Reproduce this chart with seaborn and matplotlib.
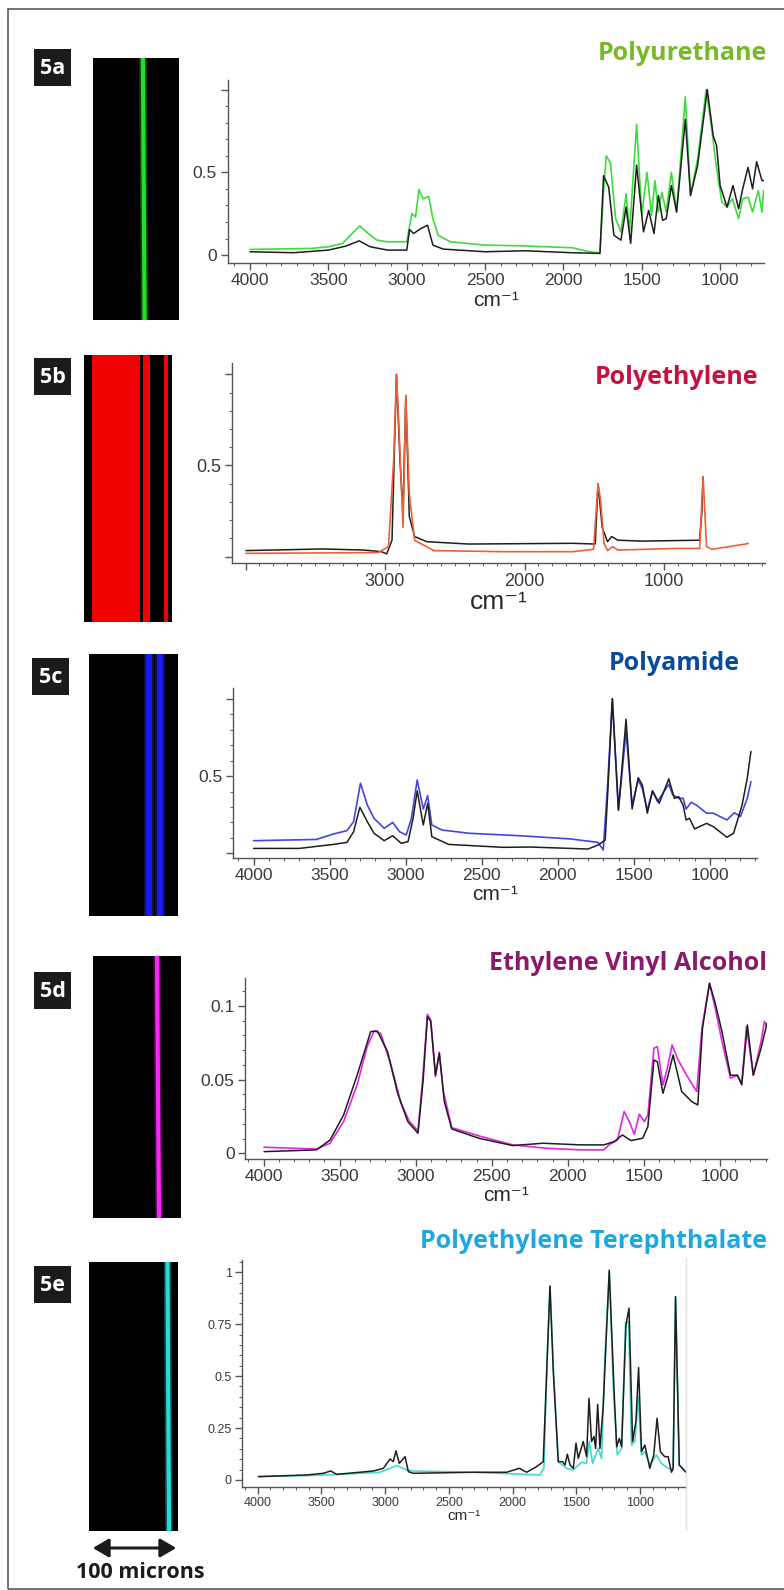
import numpy as np
import pandas as pd
import seaborn as sns
import matplotlib
matplotlib.use("Agg")
import matplotlib.pyplot as plt
from matplotlib.patches import Rectangle, FancyArrowPatch
from matplotlib.lines import Line2D
from matplotlib.ticker import MultipleLocator, FixedLocator, FixedFormatter


# ---- spectra, (wavenumber cm-1, absorbance) ----
pu_sample = [(4000, 0.034), (3611, 0.04), (3500, 0.05), (3411, 0.07), (3300, 0.176), (3233, 0.12),
             (3189, 0.09), (3122, 0.08), (3000, 0.08), (2989, 0.14), (2967, 0.25), (2944, 0.23),
             (2922, 0.396), (2896, 0.34), (2860, 0.354), (2833, 0.22), (2800, 0.12), (2722, 0.08),
             (2500, 0.06), (2278, 0.056), (1944, 0.044), (1833, 0.02), (1767, 0.014), (1744, 0.38),
             (1727, 0.60), (1700, 0.556), (1667, 0.22), (1633, 0.14), (1600, 0.37), (1578, 0.14),
             (1533, 0.79), (1500, 0.24), (1467, 0.50), (1438, 0.24), (1416, 0.45), (1394, 0.26),
             (1372, 0.38), (1344, 0.26), (1311, 0.50), (1278, 0.26), (1222, 0.956), (1189, 0.36),
             (1144, 0.58), (1089, 1.0), (1056, 0.78), (1022, 0.52), (989, 0.32), (956, 0.29),
             (922, 0.34), (882, 0.22), (856, 0.34), (822, 0.35), (793, 0.26), (756, 0.39),
             (733, 0.26), (722, 0.39)]
pu_ref = [(4000, 0.02), (3722, 0.014), (3500, 0.03), (3389, 0.054), (3304, 0.086), (3233, 0.05),
          (3122, 0.03), (3000, 0.03), (2982, 0.154), (2956, 0.13), (2911, 0.16), (2867, 0.18),
          (2833, 0.06), (2767, 0.036), (2500, 0.02), (2244, 0.026), (1944, 0.014), (1767, 0.01),
          (1744, 0.48), (1711, 0.41), (1678, 0.12), (1633, 0.09), (1600, 0.29), (1571, 0.07),
          (1533, 0.544), (1489, 0.14), (1456, 0.27), (1422, 0.13), (1394, 0.36), (1367, 0.21),
          (1344, 0.22), (1311, 0.42), (1278, 0.26), (1222, 0.82), (1189, 0.36), (1144, 0.54),
          (1082, 1.0), (1044, 0.72), (1022, 0.66), (1000, 0.42), (956, 0.29), (918, 0.42),
          (882, 0.28), (856, 0.40), (822, 0.53), (793, 0.40), (767, 0.564), (733, 0.45), (722, 0.45)]

pe_sample = [(3997, 0.018), (3050, 0.022), (2975, 0.055), (2938, 0.53), (2918, 1.0), (2900, 0.71),
             (2871, 0.16), (2851, 0.885), (2826, 0.345), (2788, 0.09), (2651, 0.033), (2153, 0.027),
             (1655, 0.027), (1505, 0.04), (1473, 0.40), (1455, 0.31), (1430, 0.073), (1405, 0.033),
             (1368, 0.055), (1331, 0.036), (907, 0.045), (745, 0.045), (720, 0.44), (695, 0.055),
             (658, 0.04), (409, 0.07), (396, 0.073)]
pe_ref = [(3997, 0.033), (3449, 0.042), (3150, 0.036), (3025, 0.027), (2988, 0.015), (2950, 0.09),
          (2918, 1.0), (2893, 0.53), (2871, 0.24), (2851, 0.88), (2826, 0.22), (2788, 0.11),
          (2701, 0.082), (2402, 0.069), (1655, 0.073), (1493, 0.069), (1473, 0.40), (1443, 0.16),
          (1405, 0.082), (1375, 0.11), (1331, 0.09), (1156, 0.085), (745, 0.09), (728, 0.25),
          (720, 0.436)]

pa_sample = [(4000, 0.082), (3587, 0.09), (3475, 0.125), (3386, 0.147), (3342, 0.205), (3297, 0.454),
             (3252, 0.313), (3208, 0.227), (3141, 0.162), (3085, 0.2), (3040, 0.14), (2996, 0.119),
             (2962, 0.227), (2924, 0.475), (2884, 0.287), (2855, 0.374), (2828, 0.184), (2761, 0.151),
             (2583, 0.13), (2248, 0.114), (1913, 0.093), (1735, 0.071), (1701, 0.022), (1672, 0.443),
             (1641, 1.0), (1601, 0.28), (1551, 0.79), (1511, 0.313), (1471, 0.475), (1444, 0.42),
             (1411, 0.28), (1377, 0.404), (1344, 0.335), (1270, 0.447), (1244, 0.378), (1205, 0.356),
             (1176, 0.356), (1156, 0.287), (1123, 0.33), (1089, 0.313), (1022, 0.26), (977, 0.26),
             (888, 0.216), (839, 0.263), (799, 0.238), (754, 0.356), (730, 0.464)]
pa_ref = [(4000, 0.032), (3699, 0.032), (3475, 0.058), (3386, 0.071), (3342, 0.14), (3301, 0.298),
          (3252, 0.205), (3208, 0.13), (3141, 0.082), (3085, 0.114), (3029, 0.065), (2984, 0.076),
          (2951, 0.227), (2924, 0.404), (2884, 0.184), (2855, 0.324), (2828, 0.108), (2717, 0.058),
          (2359, 0.039), (2181, 0.041), (1913, 0.032), (1801, 0.028), (1735, 0.054), (1688, 0.086),
          (1672, 0.378), (1641, 1.0), (1601, 0.28), (1551, 0.868), (1511, 0.287), (1471, 0.49),
          (1444, 0.443), (1411, 0.26), (1377, 0.404), (1333, 0.324), (1270, 0.482), (1233, 0.356),
          (1205, 0.367), (1176, 0.313), (1156, 0.216), (1134, 0.227), (1100, 0.158), (1022, 0.194),
          (977, 0.173), (888, 0.104), (844, 0.13), (788, 0.313), (754, 0.486), (730, 0.659)]

evoh_sample = [(3997, 0.0041), (3808, 0.0034), (3652, 0.0029), (3563, 0.0068), (3474, 0.0215),
               (3385, 0.0464), (3319, 0.0724), (3274, 0.083), (3230, 0.0814), (3163, 0.06),
               (3096, 0.034), (3041, 0.0215), (2985, 0.0152), (2952, 0.053), (2923, 0.0943),
               (2901, 0.0905), (2870, 0.052), (2845, 0.0686), (2818, 0.042), (2763, 0.0174),
               (2585, 0.0118), (2363, 0.0057), (2141, 0.0034), (1918, 0.0023), (1763, 0.0023),
               (1730, 0.0057), (1674, 0.009), (1630, 0.0283), (1596, 0.0215), (1563, 0.0129),
               (1530, 0.0265), (1497, 0.0215), (1474, 0.026), (1434, 0.0713), (1412, 0.0724),
               (1375, 0.0464), (1346, 0.0577), (1315, 0.0735), (1275, 0.0633), (1208, 0.051),
               (1153, 0.042), (1119, 0.0848), (1069, 0.1154), (1031, 0.0984), (987, 0.0758),
               (931, 0.051), (886, 0.053), (857, 0.0475), (826, 0.086), (781, 0.053),
               (730, 0.0758), (708, 0.0894), (691, 0.086)]
evoh_ref = [(3997, 0.0011), (3652, 0.0023), (3563, 0.009), (3474, 0.026), (3385, 0.053),
            (3296, 0.0826), (3252, 0.083), (3185, 0.069), (3119, 0.0407), (3052, 0.0215),
            (2985, 0.0136), (2952, 0.0486), (2923, 0.0928), (2901, 0.0894), (2870, 0.053),
            (2845, 0.0679), (2812, 0.035), (2763, 0.0165), (2585, 0.0102), (2363, 0.0052),
            (2163, 0.0068), (1918, 0.0057), (1763, 0.0057), (1696, 0.0079), (1641, 0.0124),
            (1585, 0.0086), (1508, 0.0102), (1474, 0.0181), (1434, 0.0633), (1412, 0.0622),
            (1375, 0.0407), (1346, 0.051), (1308, 0.0667), (1252, 0.042), (1185, 0.035),
            (1146, 0.0328), (1115, 0.0848), (1069, 0.1154), (1031, 0.1018), (987, 0.0826),
            (931, 0.053), (886, 0.053), (857, 0.0464), (820, 0.0871), (781, 0.053),
            (730, 0.0713), (691, 0.0882)]

pet_sample = [(3993, 0.016), (3614, 0.021), (3353, 0.027), (3039, 0.037), (2961, 0.056), (2909, 0.069),
              (2830, 0.048), (2778, 0.043), (2307, 0.037), (1915, 0.027), (1785, 0.024), (1754, 0.056),
              (1727, 0.60), (1706, 0.93), (1680, 0.55), (1641, 0.088), (1576, 0.056), (1523, 0.048),
              (1497, 0.064), (1458, 0.085), (1419, 0.08), (1398, 0.185), (1372, 0.08), (1327, 0.152),
              (1301, 0.104), (1275, 0.60), (1241, 1.0), (1209, 0.44), (1178, 0.12), (1144, 0.152),
              (1113, 0.76), (1089, 0.76), (1066, 0.168), (1040, 0.185), (1014, 0.40), (988, 0.12),
              (962, 0.136), (923, 0.072), (871, 0.12), (832, 0.08), (779, 0.056), (740, 0.048),
              (721, 0.875), (692, 0.072), (640, 0.04)]
pet_ref = [(3993, 0.016), (3614, 0.024), (3484, 0.032), (3426, 0.043), (3379, 0.027), (3092, 0.043),
           (3013, 0.056), (2961, 0.101), (2935, 0.088), (2914, 0.14), (2888, 0.08), (2843, 0.112),
           (2817, 0.04), (2778, 0.032), (2307, 0.037), (2046, 0.037), (1947, 0.056), (1889, 0.037),
           (1811, 0.064), (1759, 0.088), (1732, 0.52), (1706, 0.934), (1680, 0.52), (1641, 0.088),
           (1607, 0.088), (1588, 0.072), (1570, 0.124), (1549, 0.072), (1523, 0.056), (1502, 0.177),
           (1484, 0.104), (1445, 0.185), (1419, 0.112), (1400, 0.393), (1380, 0.185), (1361, 0.209),
           (1348, 0.152), (1332, 0.364), (1314, 0.152), (1288, 0.361), (1241, 1.01), (1204, 0.44),
           (1183, 0.16), (1162, 0.2), (1144, 0.16), (1110, 0.746), (1086, 0.827), (1058, 0.185),
           (1032, 0.281), (1011, 0.541), (988, 0.136), (962, 0.168), (923, 0.056), (892, 0.12),
           (866, 0.297), (840, 0.136), (806, 0.112), (779, 0.112), (753, 0.037), (740, 0.056),
           (721, 0.883), (692, 0.072), (640, 0.037)]

titles = ["Polyurethane", "Polyethylene", "Polyamide", "Ethylene Vinyl Alcohol",
          "Polyethylene Terephthalate"]
panel_tags = ["5a", "5b", "5c", "5d", "5e"]

# microscope strips, positions across the 100 micron field (top, bottom)
pu_fibre = [(58, 60)]
pe_red_bands = [(9, 63.6), (67.6, 75), (90.9, 94.9)]
pa_fibres = [(67.4, 67.4), (80.3, 80.3)]
evoh_fibre = [(72.7, 75)]
pet_fibre = [(88.2, 89.9)]


W, H = 784, 1590
sns.set_theme(style="ticks")
NARROW = ["Liberation Sans Narrow", "Liberation Sans", "DejaVu Sans"]
BOLD = ["Open Sans", "DejaVu Sans"]
plt.rcParams["font.family"] = NARROW


def box(l, t, r, b):
    return [l / W, 1 - b / H, (r - l) / W, (b - t) / H]


def to_frame(pairs, name):
    arr = np.array(pairs, dtype=float)
    return pd.DataFrame({"wn": arr[:, 0], "abs": arr[:, 1], "series": name})


fig = plt.figure(figsize=(W / 100, H / 100), dpi=100)

# outer frame, its right edge lies beyond the picture
fig.add_artist(Rectangle((8 / W, 1 - 1589 / H), 900 / W, 1580 / H, transform=fig.transFigure,
                         fill=False, edgecolor="#5a5a5a", lw=1.2, clip_on=False))

panels = [
    dict(sample=pu_sample, ref=pu_ref, color="#3ddc3d", rect=(227.5, 80, 764, 263),
         xlim=(4144, 720), ylim=(-0.048, 1.058),
         xmaj=[4000, 3500, 3000, 2500, 2000, 1500, 1000], xlab=None, xmin=100,
         ymaj=[0, 0.5, 1.0], ylab=["0", "0.5", ""], ymin=0.1,
         tsize=12.5, lsize=15, lpad=2,
         title_c="#78b82a", title_xy=(767, 53), tag_box=(34, 49),
         strip=(93, 58, 179, 320)),
    dict(sample=pe_sample, ref=pe_ref, color="#ee5f33", rect=(232, 363, 765, 563),
         xlim=(4097, 276), ylim=(-0.035, 1.062),
         xmaj=[4000, 3000, 2000, 1000], xlab=["", "3000", "2000", "1000"], xmin=100,
         ymaj=[0, 0.5, 1.0], ylab=["", "0.5", ""], ymin=0.1,
         tsize=13, lsize=19, lpad=0,
         title_c="#c8103e", title_xy=(758, 378), tag_box=(34, 358),
         strip=(84, 355, 172, 622)),
    dict(sample=pa_sample, ref=pa_ref, color="#4545e0", rect=(233, 688, 757, 858),
         xlim=(4135, 690), ylim=(-0.03, 1.07),
         xmaj=[4000, 3500, 3000, 2500, 2000, 1500, 1000], xlab=None, xmin=100,
         ymaj=[0, 0.5, 1.0], ylab=["", "0.5", ""], ymin=0.1,
         tsize=12.5, lsize=15, lpad=1,
         title_c="#0b4a9a", title_xy=(740, 663), tag_box=(32, 658),
         strip=(89, 654, 178, 916)),
    dict(sample=evoh_sample, ref=evoh_ref, color="#e425e4", rect=(245, 978, 767, 1159),
         xlim=(4122, 691), ylim=(-0.0039, 0.119),
         xmaj=[4000, 3500, 3000, 2500, 2000, 1500, 1000], xlab=None, xmin=100,
         ymaj=[0, 0.05, 0.1], ylab=["0", "0.05", "0.1"], ymin=0.01,
         tsize=12.5, lsize=15, lpad=1,
         title_c="#8a1a6a", title_xy=(767, 963), tag_box=(34, 972),
         strip=(93, 956, 181, 1218)),
    dict(sample=pet_sample, ref=pet_ref, color="#45d8cc", rect=(242, 1260, 686, 1487),
         xlim=(4122, 639), ylim=(-0.034, 1.059),
         xmaj=[4000, 3500, 3000, 2500, 2000, 1500, 1000], xlab=None, xmin=100,
         ymaj=[0, 0.25, 0.5, 0.75, 1.0], ylab=["0", "0.25", "0.5", "0.75", "1"], ymin=0.05,
         tsize=9, lsize=11, lpad=0,
         title_c="#1ea7e1", title_xy=(767, 1241), tag_box=(34, 1266),
         strip=(89, 1262, 178, 1531)),
]

fibre_core = {0: "#22e022", 2: "#1a1aff", 3: "#ff22ff", 4: "#22dcdc"}

for i, p in enumerate(panels):
    ax = fig.add_axes(box(*p["rect"]))
    df = pd.concat([to_frame(p["sample"], "sample"), to_frame(p["ref"], "ref")])
    sns.lineplot(data=df[df.series == "sample"], x="wn", y="abs", color=p["color"],
                 lw=1.2, estimator=None, sort=False, ax=ax)
    sns.lineplot(data=df[df.series == "ref"], x="wn", y="abs", color="#1e1e1e",
                 lw=1.1, estimator=None, sort=False, ax=ax)
    if i == 1:
        # the sample sits on top of the reference in the polyethylene plot
        ax.lines[0].set_zorder(3)
    ax.set_xlim(*p["xlim"])
    ax.set_ylim(*p["ylim"])
    sns.despine(ax=ax)
    for s in ("left", "bottom"):
        ax.spines[s].set_color("#555555")
        ax.spines[s].set_linewidth(1.0)
    ax.xaxis.set_major_locator(FixedLocator(p["xmaj"]))
    if p["xlab"] is not None:
        ax.xaxis.set_major_formatter(FixedFormatter(p["xlab"]))
    ax.xaxis.set_minor_locator(MultipleLocator(p["xmin"]))
    ax.yaxis.set_major_locator(FixedLocator(p["ymaj"]))
    ax.yaxis.set_major_formatter(FixedFormatter(p["ylab"]))
    ax.yaxis.set_minor_locator(MultipleLocator(p["ymin"]))
    ax.tick_params(which="major", length=5, width=1, color="#555555", pad=2.5,
                   labelsize=p["tsize"], labelcolor="#3a3a3a")
    ax.tick_params(which="minor", length=2.5, width=0.8, color="#666666")
    for lab in ax.get_xticklabels() + ax.get_yticklabels():
        lab.set_family(NARROW)
    ax.set_ylabel("")
    ax.set_xlabel("cm⁻¹", fontsize=p["lsize"], color="#2a2a2a", labelpad=p["lpad"],
                  family=NARROW)

    tx, ty = p["title_xy"]
    fig.text(tx / W, 1 - ty / H, titles[i], ha="right", va="center", fontsize=18,
             fontweight="bold", color=p["title_c"], family=BOLD)

    bx, by = p["tag_box"]
    tag = fig.add_axes(box(bx, by, bx + 37, by + 37))
    tag.set_facecolor("#1b1b1b")
    tag.set_xticks([])
    tag.set_yticks([])
    for s in tag.spines.values():
        s.set_visible(False)
    tag.text(0.5, 0.48, panel_tags[i], ha="center", va="center", color="white",
             fontsize=15.5, fontweight="bold", family=BOLD, transform=tag.transAxes)

    sax = fig.add_axes(box(*p["strip"]))
    sax.set_facecolor("black")
    sax.set_xlim(0, 100)
    sax.set_ylim(0, 1)
    sax.set_xticks([])
    sax.set_yticks([])
    for s in sax.spines.values():
        s.set_visible(False)
    if i == 1:
        for a, b in pe_red_bands:
            sax.axvspan(a, b, color="#f00000", lw=0)
    else:
        fibres = [pu_fibre, None, pa_fibres, evoh_fibre, pet_fibre][i]
        width = 4.0 if i == 2 else 3.0
        for top, bottom in fibres:
            sax.plot([top, bottom], [1, 0], color=p["color"], lw=width * 1.8, alpha=0.3,
                     solid_capstyle="butt")
            sax.plot([top, bottom], [1, 0], color=fibre_core[i], lw=width,
                     solid_capstyle="butt")

# faint frame edge on the right of the PET plot
fig.add_artist(Line2D([686 / W, 686 / W], [1 - 1258 / H, 1 - 1530 / H], color="#e2e2e2",
                      lw=1, transform=fig.transFigure))

# 100 micron scale bar
fig.add_artist(FancyArrowPatch((90 / W, 1 - 1548 / H), (179 / W, 1 - 1548 / H),
                               transform=fig.transFigure,
                               arrowstyle="<|-|>,head_length=6,head_width=3.5",
                               color="#1b1b1b", lw=2.2, mutation_scale=1.6))
fig.text(140 / W, 1 - 1572 / H, "100 microns", ha="center", va="center", fontsize=15.5,
         fontweight="bold", color="#1b1b1b", family=BOLD)

fig.savefig("out.png", dpi=100)
